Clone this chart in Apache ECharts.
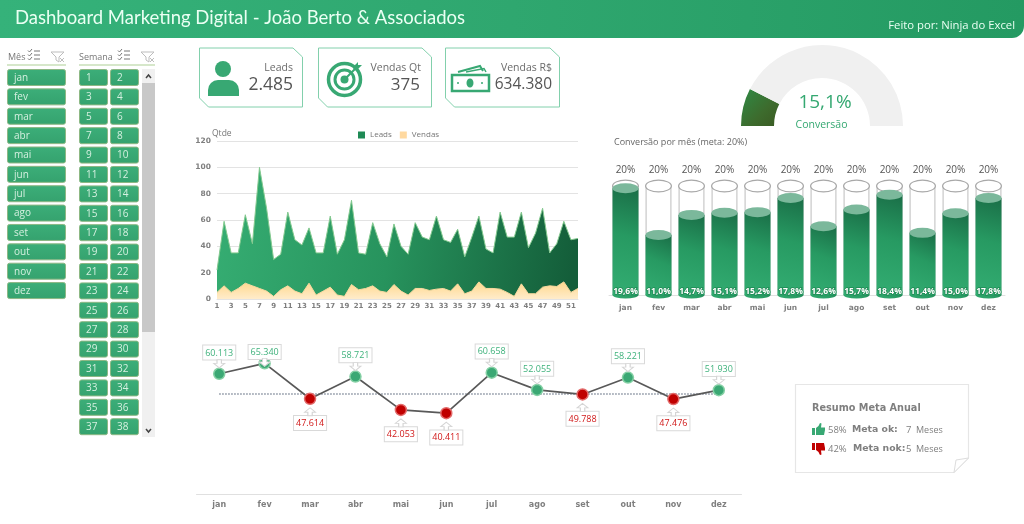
<!DOCTYPE html>
<html><head><meta charset="utf-8">
<style>html,body{margin:0;padding:0;background:#fff}#c{width:1024px;height:524px}</style>
<script src="https://cdn.jsdelivr.net/npm/echarts@6/dist/echarts.min.js"></script></head>
<body><div id="c"></div>
<script>
const months=['jan','fev','mar','abr','mai','jun','jul','ago','set','out','nov','dez'];
const weeks=Array.from({length:52},(_,i)=>String(i+1));
const visibleWeeks=weeks.slice(0,38);
const leads=[22,59,35,35,64,42,100,69,30,34,66,45,41,54,35,35,63,34,45,75,35,34,58,42,32,57,40,34,58,47,45,63,45,43,53,32,47,63,38,35,66,47,47,66,39,50,69,35,42,59,45,46];
const vendas=[5,10,5,8,12,10,8,6,2,7,10,6,4,12,3,6,9,3,2,11,7,8,10,6,5,11,6,3,8,8,6.5,7.5,8,6,11.5,4,6,13,8,8,7.5,5,2,11.5,4,4,9,10,9.5,13,5,8];
const conversao=[19.6,11.0,14.7,15.1,15.2,17.8,12.6,15.7,18.4,11.4,15.0,17.8];
const metaConv=months.map(()=>20);
const receita=[60113,65340,47614,58721,42053,40411,60658,52055,49788,58221,47476,51930];
const metaReceita=months.map(()=>50000);
const conversaoTotal=15.1;
const kpis=[['Leads','2.485'],['Vendas Qt','375'],['Vendas R$','634.380']];

const G='#38a873',TXT='#6b6b6b',OS='"Open Sans",sans-serif',DV='"DejaVu Sans",sans-serif';
const pt=v=>v.toLocaleString('de-DE');
const pc=v=>v.toFixed(1).replace('.',',')+'%';
const els=[];
const text=(x,y,t,font,fill,align)=>els.push({type:'text',x,y,silent:true,style:{text:t,font,fill,textAlign:align||'left',textVerticalAlign:'middle'}});
const rect=(x,y,w,h,fill,r,stroke)=>els.push({type:'rect',silent:true,shape:{x,y,width:w,height:h,r:r||0},style:{fill,stroke:stroke||null,lineWidth:stroke?1:0}});
const poly=(pts,style)=>els.push({type:'polygon',silent:true,shape:{points:pts},style});
const pline=(pts,stroke,w)=>els.push({type:'polyline',silent:true,shape:{points:pts},style:{stroke,lineWidth:w||1,fill:null}});
const circle=(cx,cy,r,fill,stroke,w)=>els.push({type:'circle',silent:true,shape:{cx,cy,r},style:{fill,stroke:stroke||null,lineWidth:w||0}});
const shift=(pts,x,y)=>pts.map(p=>[p[0]+x,p[1]+y]);

// header
els.push({type:'rect',silent:true,shape:{x:0,y:0,width:1024,height:38,r:[0,0,12,0]},style:{fill:{type:'linear',x:0,y:0,x2:1,y2:1,colorStops:[{offset:0,color:'#35b27a'},{offset:.5,color:'#2fa76f'},{offset:1,color:'#249a62'}]}}});
text(15,18,'Dashboard Marketing Digital - João Berto & Associados','18.5px Lato,'+OS,'#eafff3');
text(1015,26,'Feito por: Ninja do Excel','11.3px '+OS,'#eafff3','right');

// slicer icons
const checkIcon=x=>{[59,55,51].forEach(y=>{pline([[x,y-.5],[x+1.5,y+1],[x+4,y-2]],'#777',1);pline([[x+6,y],[x+12,y]],'#777',1);});};
const filterIcon=x=>{pline([[x,52],[x+13,52],[x+8,57],[x+8,62],[x+5,60],[x+5,57],[x,52]],'#bdbdbd',1);pline([[x+9,58],[x+13,62]],'#bdbdbd',1);pline([[x+13,58],[x+9,62]],'#bdbdbd',1);};
text(8,57,'Mês','9px '+OS,'#777');checkIcon(28);filterIcon(51);
pline([[7,65],[66,65]],'#c9dfb8',1.5);
text(79,57,'Semana','9px '+OS,'#777');checkIcon(118);filterIcon(141);
pline([[79,65],[155,65]],'#c9dfb8',1.5);
const btn=(x,y,w,t)=>{rect(x+.5,y+.5,w,16,{type:'linear',x:0,y:0,x2:0,y2:1,colorStops:[{offset:0,color:'#3cae79'},{offset:1,color:'#35a26e'}]},2,'#8db884');text(x+7,y+9,t,'10px '+OS,'#d5f0e0');};
months.forEach((m,i)=>btn(7,69+i*19.37,58,m));
visibleWeeks.forEach((w,i)=>btn(i%2?110:79,69+Math.floor(i/2)*19.4,28,w));
rect(142,69,13,368,'#f0f0f0');rect(142,83,13,249,'#c8c8c8');
pline([[146,78],[148.5,75],[151,78]],'#444',1.5);pline([[146,429],[148.5,432],[151,429]],'#444',1.5);

// KPI cards
const card=(l,r)=>poly([[l,48],[r-9.5,48],[r,57],[r,107],[l+9,107],[l,98]],{fill:'#fff',stroke:'#82d0ac',lineWidth:1});
card(199.5,302.5);card(318.5,431.5);card(445.5,559.5);
text(293,68,kpis[0][0],'10.5px '+OS,TXT,'right');text(293,85,kpis[0][1],'17.5px '+OS,'#555','right');
text(421,68,kpis[1][0],'10.5px '+OS,TXT,'right');text(420,85,kpis[1][1],'17px '+OS,'#555','right');
text(552,68,kpis[2][0],'10.5px '+OS,TXT,'right');text(552,85,kpis[2][1],'15.5px '+OS,'#555','right');
// person
circle(223,69,8,G);
els.push({type:'rect',silent:true,shape:{x:208,y:80,width:31,height:16,r:[10,10,0,0]},style:{fill:G}});
// target
circle(344.5,79.5,16,null,G,3.5);circle(344.5,79.5,9.5,null,G,3);circle(344.5,79.5,4,G);
pline([[344.5,79.5],[357,67]],G,2);
poly([[353,67],[358,62],[358,65],[362,65],[357,70],[354,70]],{fill:G});
// money
els.push({type:'rect',silent:true,shape:{x:452,y:75,width:37,height:16},style:{fill:'#fff',stroke:G,lineWidth:2.5}});
els.push({type:'ellipse',silent:true,shape:{cx:470,cy:83,rx:3.5,ry:4.5},style:{fill:G}});
circle(458,83,1,G);circle(482,83,1,G);
pline([[458,72],[480,66],[483,71]],G,2);pline([[466,72],[484,68.5],[486,72]],G,1.5);

// gauge text
text(825,103,pc(conversaoTotal),'19px '+OS,'#34a871','center');
text(821.5,125,'Conversão','10.5px '+OS,'#34a871','center');
text(614,142,'Conversão por mês (meta: 20%)','9px '+OS,'#666');
text(212,134,'Qtde','8.5px '+OS,'#777');

// resumo
poly([[795.5,384.5],[968.5,384.5],[968.5,458],[954,472.5],[795.5,472.5]],{fill:'#fff',stroke:'#e6e6e6',lineWidth:1.2});
poly([[968.5,458],[956,460],[954,472.5]],{fill:'#fff',stroke:'#ddd',lineWidth:1});
text(812,408,'Resumo Meta Anual','bold 9.7px '+DV,'#7f7f7f');
const thumbUpA=[[0,5],[3,5],[3,12],[0,12]],thumbUpB=[[4,5],[6.5,3],[8,0],[9.5,.5],[9,4.5],[13,4.5],[13,7],[12,12],[4,12]];
const thumbDnA=[[0,0],[3,0],[3,7],[0,7]],thumbDnB=[[4,0],[12,0],[13,5],[13,7.5],[9,7.5],[9.5,11.5],[8,12],[6.5,9],[4,7]];
poly(shift(thumbUpA,812,423),{fill:G});poly(shift(thumbUpB,812,423),{fill:G});
poly(shift(thumbDnA,812,443),{fill:'#c00000'});poly(shift(thumbDnB,812,443),{fill:'#c00000'});
const r1=430,r2=449;
const RF='9.5px '+OS,RB='bold 9.3px '+DV,RC='#7f7f7f';
text(828,r1,'58%',RF,RC);text(852,r1,'Meta ok:',RB,RC);text(906,r1,'7',RF,RC);text(916,r1,'Meses','9px '+OS,RC);
text(828,r2,'42%',RF,RC);text(853,r2,'Meta nok:',RB,RC);text(906,r2,'5',RF,RC);text(916,r2,'Meses','9px '+OS,RC);

const liquid={type:'linear',x:0,y:1,x2:1,y2:0,colorStops:[{offset:0,color:'#33ad72'},{offset:.55,color:'#279a62'},{offset:1,color:'#1a6e47'}]};
const arrowUp='path://M5 0 L10 5 L7 5 L7 9 L3 9 L3 5 L0 5 Z';
const arrowDown='path://M3 0 L7 0 L7 4 L10 4 L5 9 L0 4 L3 4 Z';
const okC='#3ba874',badC='#c00000';
const isOk=i=>receita[i]>=metaReceita[i];

const option={
 animation:false,
 graphic:{elements:els},
 legend:{left:358,top:131,padding:0,icon:'rect',itemWidth:7,itemHeight:7,itemGap:8,data:['Leads','Vendas'],textStyle:{fontSize:8,color:'#777',fontFamily:OS}},
 grid:[
  {left:217,top:141,width:361,height:158},
  {left:609,top:175.1,width:396,height:119.9},
  {left:196.5,top:354,width:545,height:140}
 ],
 xAxis:[
  {gridIndex:0,type:'category',boundaryGap:false,data:weeks,axisTick:{show:false},axisLine:{lineStyle:{color:'#e3e3e3'}},axisLabel:{interval:1,margin:4,fontSize:7,fontWeight:'bold',color:'#7f7f7f',fontFamily:DV}},
  {gridIndex:1,type:'category',data:months,offset:4,axisTick:{show:false},axisLine:{lineStyle:{color:'#e0e0e0'}},axisLabel:{margin:5,fontSize:7.5,fontWeight:'bold',color:'#7f7f7f',fontFamily:DV}},
  {gridIndex:2,type:'category',data:months,axisTick:{show:false},axisLine:{lineStyle:{color:'#e0e0e0'}},axisLabel:{margin:7,fontSize:8,fontWeight:'bold',color:'#7f7f7f',fontFamily:DV}}
 ],
 yAxis:[
  {gridIndex:0,type:'value',min:0,max:120,interval:20,axisLine:{show:false},axisTick:{show:false},splitLine:{lineStyle:{color:'#e3e3e3'}},axisLabel:{margin:6,fontSize:7.5,fontWeight:'bold',color:'#7f7f7f',fontFamily:DV}},
  {gridIndex:1,type:'value',min:0,max:22,show:false},
  {gridIndex:2,type:'value',min:0,max:70000,show:false}
 ],
 series:[
  {name:'Leads',type:'line',xAxisIndex:0,yAxisIndex:0,data:leads,symbol:'none',lineStyle:{color:'#84c98f',width:1},
   itemStyle:{color:'#1f8a55'},
   areaStyle:{opacity:1,color:{type:'linear',x:0,y:0,x2:1,y2:.45,colorStops:[{offset:0,color:'#36ae73'},{offset:.5,color:'#27935d'},{offset:1,color:'#145e3a'}]}}},
  {name:'Vendas',type:'line',xAxisIndex:0,yAxisIndex:0,data:vendas,symbol:'none',lineStyle:{color:'#f8d9a0',width:1},
   itemStyle:{color:'#ffd9a0'},
   areaStyle:{opacity:1,color:{type:'linear',x:0,y:0,x2:0,y2:1,colorStops:[{offset:0,color:'#ffd88c'},{offset:1,color:'#ffeccb'}]}}},

  {name:'Meta',type:'bar',xAxisIndex:1,yAxisIndex:1,data:metaConv,barWidth:26,barGap:'-100%',z:2,silent:true,
   itemStyle:{color:'#fff',borderColor:'#c8c8c8',borderWidth:1.2},
   label:{show:true,position:'top',distance:11,fontSize:10,color:'#555',fontFamily:OS,formatter:p=>p.value+'%'}},
  {name:'MetaAro',type:'pictorialBar',xAxisIndex:1,yAxisIndex:1,data:metaConv,symbol:'circle',symbolSize:[27,13],symbolPosition:'end',symbolOffset:[0,'-50%'],clip:false,z:3,silent:true,
   itemStyle:{color:'#a8a8a8'}},
  {name:'MetaTopo',type:'pictorialBar',xAxisIndex:1,yAxisIndex:1,data:metaConv,symbol:'circle',symbolSize:[24.5,10.5],symbolPosition:'end',symbolOffset:[0,'-50%'],clip:false,z:3.2,silent:true,
   itemStyle:{color:'#fff'}},
  {name:'Conv',type:'bar',xAxisIndex:1,yAxisIndex:1,data:conversao,barWidth:26,barGap:'-100%',z:4,silent:true,itemStyle:{color:liquid},
   label:{show:true,position:'insideBottom',distance:-1,fontSize:8.5,fontWeight:'bold',color:'#fff',fontFamily:OS,textBorderColor:'#1f8a55',textBorderWidth:1.5,formatter:p=>pc(p.value)}},
  {name:'ConvBase',type:'pictorialBar',xAxisIndex:1,yAxisIndex:1,data:conversao,symbol:'circle',symbolSize:[26,7],symbolPosition:'start',symbolOffset:[0,'50%'],clip:false,z:3.5,silent:true,itemStyle:{color:liquid}},
  {name:'ConvTopo',type:'pictorialBar',xAxisIndex:1,yAxisIndex:1,data:conversao,symbol:'circle',symbolSize:[26,10],symbolPosition:'end',symbolOffset:[0,'-50%'],clip:false,z:5,silent:true,
   itemStyle:{color:'#7bb89b'}},

  {name:'Meta receita',type:'line',xAxisIndex:2,yAxisIndex:2,data:metaReceita,symbol:'none',silent:true,z:2,lineStyle:{color:'#44546a',width:1.2,type:[1.5,1.5]}},
  {name:'Receita',type:'line',xAxisIndex:2,yAxisIndex:2,data:receita,symbol:'none',silent:true,z:3,lineStyle:{color:'#595959',width:1.7}},
  {name:'Pontos',type:'scatter',xAxisIndex:2,yAxisIndex:2,silent:true,z:4,
   data:receita.map((v,i)=>({value:v,symbolSize:11,itemStyle:{opacity:1,color:isOk(i)?okC:badC,borderColor:isOk(i)?'#84d0a4':'#e26a6a',borderWidth:1.5},
     label:{show:true,position:isOk(i)?'top':'bottom',distance:i===1?-2:(isOk(i)?8:11),color:isOk(i)?'#3fb27c':'#d01818',fontSize:9,fontFamily:OS,
       formatter:pt(v),backgroundColor:'#fff',borderColor:'#d9d9d9',borderWidth:1,padding:[3,2,2,2]}}))},
  {name:'Setas',type:'scatter',xAxisIndex:2,yAxisIndex:2,silent:true,z:5,
   data:receita.map((v,i)=>({value:v,symbol:isOk(i)?arrowDown:arrowUp,symbolSize:[11,8],symbolOffset:isOk(i)?[0,i===1?-1:-10]:[0,13],
     itemStyle:{opacity:1,color:'#fff',borderColor:'#d5d5d5',borderWidth:1}}))},

  {name:'Conversão',type:'pie',center:[822,126],radius:[48,81],startAngle:180,silent:true,z:1,label:{show:false},labelLine:{show:false},
   data:[
    {value:conversaoTotal,itemStyle:{color:{type:'linear',x:0,y:0,x2:1,y2:1,colorStops:[{offset:0,color:'#2f8a45'},{offset:.6,color:'#3d6b2d'},{offset:1,color:'#3a5a22'}]}}},
    {value:100-conversaoTotal,itemStyle:{color:'#f0f0f0'}},
    {value:100,itemStyle:{color:'transparent'}}]}
 ]
};
echarts.init(document.getElementById('c')).setOption(option);
</script></body></html>
